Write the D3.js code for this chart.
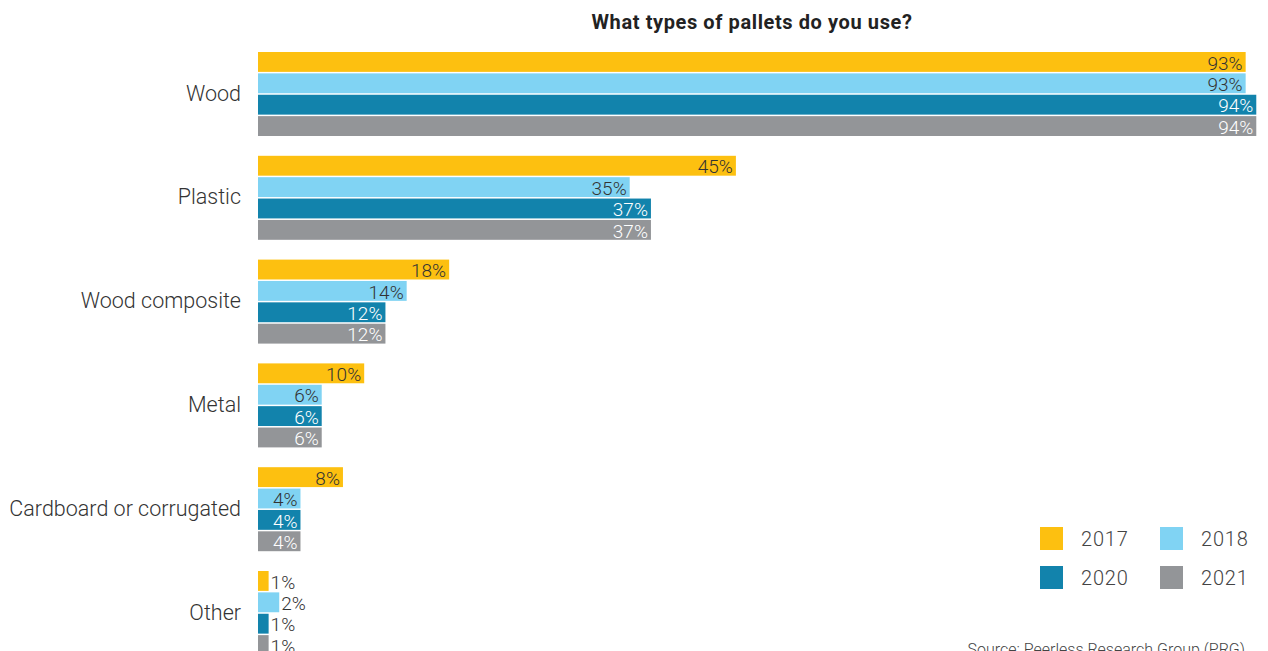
<!DOCTYPE html>
<html>
<head>
<meta charset="utf-8">
<script src="https://cdn.jsdelivr.net/npm/d3@7"></script>
<style>
  body { margin: 0; background: #fff; overflow: hidden; }
  svg text { font-family: Roboto, "DejaVu Sans", sans-serif; }
</style>
</head>
<body>
<div id="chart"></div>
<script>
// Chart data
const categories = ["Wood", "Plastic", "Wood composite", "Metal", "Cardboard or corrugated", "Other"];
const years = ["2017", "2018", "2020", "2021"];
const values2017 = [93, 45, 18, 10, 8, 1];
const values2018 = [93, 35, 14, 6, 4, 2];
const values2020 = [94, 37, 12, 6, 4, 1];
const values2021 = [94, 37, 12, 6, 4, 1];
const colors = ["#fdc010", "#80d3f3", "#1283ac", "#939598"];
const labelColors = ["#333", "#333", "#fff", "#fff"];

const seriesValues = [values2017, values2018, values2020, values2021];

const width = 1268, height = 651;
const x0 = 258;
const groupStep = 103.8;

const svg = d3.select("#chart").append("svg")
    .attr("width", width)
    .attr("height", height);

// Title
svg.append("text")
    .attr("x", 752)
    .attr("y", 29)
    .attr("text-anchor", "middle")
    .style("font-size", "20px")
    .style("font-weight", "bold")
    .style("letter-spacing", "0.6px")
    .style("fill", "#222")
    .text("What types of pallets do you use?");

const x = d3.scaleLinear()
    .domain([0, 100])
    .range([x0, x0 + 1062]);

const yInner = d3.scaleBand()
    .domain(years)
    .range([0, 21 * 4])
    .paddingInner(0.07);

const groups = svg.selectAll(".group")
    .data(categories)
    .enter()
    .append("g")
    .attr("class", "group")
    .attr("transform", (d, i) => `translate(0,${52 + i * groupStep})`);

// Category labels
groups.append("text")
    .attr("x", 241)
    .attr("y", 21 * 2 - 1)
    .attr("dy", "0.35em")
    .attr("text-anchor", "end")
    .style("font-size", "21.5px")
    .style("font-weight", 300)
    .style("fill", "#333")
    .text(d => d);

groups.each(function(cat, ci) {
    const g = d3.select(this);
    years.forEach((yr, si) => {
        const v = seriesValues[si][ci];
        const barW = Math.min(x(v), width - 4) - x(0);
        g.append("rect")
            .attr("x", x(0))
            .attr("y", yInner(yr))
            .attr("width", barW)
            .attr("height", yInner.bandwidth())
            .style("fill", colors[si]);

        const inside = barW > 30;
        g.append("text")
            .attr("x", inside ? x(0) + barW - 3 : x(0) + barW + 2)
            .attr("y", yInner(yr) + yInner.bandwidth() / 2 + 1)
            .attr("dy", "0.35em")
            .attr("text-anchor", inside ? "end" : "start")
            .style("font-size", "19px")
            .style("font-weight", 300)
            .style("fill", inside ? labelColors[si] : "#333")
            .text(v + "%");
    });
});

// Legend
const legend = svg.append("g").attr("class", "legend");
years.forEach((yr, i) => {
    const lx = i % 2 === 0 ? 1040 : 1160;
    const ly = i < 2 ? 527 : 566;
    legend.append("rect")
        .attr("x", lx)
        .attr("y", ly)
        .attr("width", 23)
        .attr("height", 23)
        .style("fill", colors[i]);
    legend.append("text")
        .attr("x", lx + 41)
        .attr("y", ly + 12)
        .attr("dy", "0.35em")
        .style("font-size", "20px")
        .style("font-weight", 300)
        .style("letter-spacing", "0.8px")
        .style("fill", "#444")
        .text(yr);
});

// Source note
svg.append("text")
    .attr("x", 1245)
    .attr("y", 655)
    .attr("text-anchor", "end")
    .style("font-size", "16px")
    .style("font-weight", 300)
    .style("fill", "#444")
    .text("Source: Peerless Research Group (PRG)");
</script>
</body>
</html>
